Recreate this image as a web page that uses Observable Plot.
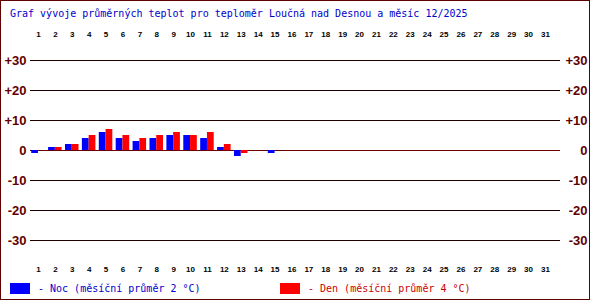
<!DOCTYPE html>
<html><head><meta charset="utf-8">
<script src="https://cdn.jsdelivr.net/npm/d3@7"></script>
<script src="https://cdn.jsdelivr.net/npm/@observablehq/plot@0.6"></script>
<style>
body{margin:0;background:#fff}
#wrap{position:relative;width:590px;height:300px;overflow:hidden}
#border{position:absolute;left:0;top:0;width:590px;height:300px;box-sizing:border-box;border:1px solid #600000;pointer-events:none}
.t{position:absolute;font-family:"DejaVu Sans Mono",monospace;font-size:10px;white-space:pre;line-height:10px}
.sw{position:absolute;width:20px;height:11px}
</style></head><body>
<div id="wrap"><div id="chart"></div><div id="overlay"></div><div id="border"></div></div>
<script>
const title = "Graf vývoje průměrných teplot pro teploměr Loučná nad Desnou a měsíc 12/2025";
const days = [1,2,3,4,5,6,7,8,9,10,11,12,13,14,15,16,17,18,19,20,21,22,23,24,25,26,27,28,29,30,31];
const noc = [-1,1,2,4,6,4,3,4,5,5,4,1,-2,null,-1,null,null,null,null,null,null,null,null,null,null,null,null,null,null,null,null];
const den = [0,1,2,5,7,5,4,5,6,5,6,2,-1,null,null,null,null,null,null,null,null,null,null,null,null,null,null,null,null,null,null];
const yTicks = [30,20,10,0,-10,-20,-30];
const legendNoc = "- Noc (měsíční průměr 2 °C)";
const legendDen = "- Den (měsíční průměr 4 °C)";
const colNoc = "#0000ff", colDen = "#ff0000";

const nocRows = days.map((d,i)=>({day:d, v:noc[i]})).filter(r=>r.v!=null);
const denRows = days.map((d,i)=>({day:d, v:den[i]})).filter(r=>r.v!=null);
const fmt = v => v > 0 ? "+" + v : String(v);
const labelStyle = {fill:"#600000", fontWeight:"bold", fontSize:13, fontFamily:"Liberation Sans, Arial, sans-serif"};
const dayStyle = {fill:"#000", fontWeight:"bold", fontSize:8, fontFamily:"Liberation Sans, Arial, sans-serif", tickSize:0, tickFormat:d=>String(d), label:null};

const plot = Plot.plot({
  width:590, height:300,
  marginLeft:30, marginRight:30, marginTop:40, marginBottom:40,
  style:{background:"transparent", overflow:"visible"},
  x:{type:"linear", domain:[0.5,31.5], range:[29.5,553.4], label:null},
  y:{domain:[-30,30], range:[240,60], label:null},
  marks:[
    Plot.ruleY(yTicks.filter(v=>v!==0), {stroke:"#1e0000", strokeWidth:1}),
    Plot.ruleY([0], {stroke:"#6a0000", strokeWidth:1}),
    Plot.rect(nocRows, {x1:d=>d.day-0.4, x2:d=>d.day, y1:0, y2:"v", fill:colNoc}),
    Plot.rect(denRows, {x1:d=>d.day, x2:d=>d.day+0.4, y1:0, y2:"v", fill:colDen}),
    Plot.axisX(days, {anchor:"top", tickPadding:4, ...dayStyle}),
    Plot.axisX(days, {anchor:"bottom", tickPadding:6, ...dayStyle}),
    Plot.axisY(yTicks, {anchor:"left", tickSize:0, tickPadding:4, tickFormat:fmt, label:null, ...labelStyle}),
    Plot.text(yTicks, {y:d=>d, text:fmt, frameAnchor:"right", dx:27, textAnchor:"end", ...labelStyle})
  ]
});
document.getElementById("chart").appendChild(plot);

const ov = document.getElementById("overlay");
function addText(txt, left, top, color){
  const el = document.createElement("div");
  el.className = "t"; el.textContent = txt;
  el.style.left = left + "px"; el.style.top = top + "px"; el.style.color = color;
  ov.appendChild(el);
}
function addSwatch(left, top, color){
  const el = document.createElement("div");
  el.className = "sw"; el.style.left = left + "px"; el.style.top = top + "px"; el.style.background = color;
  ov.appendChild(el);
}
addText(title, 10, 9, "#0000cc");
addSwatch(10, 283, colNoc);
addText(legendNoc, 38, 284, "#0000cc");
addSwatch(280, 283, colDen);
addText(legendDen, 308, 284, "#cc0000");
</script>
</body></html>
